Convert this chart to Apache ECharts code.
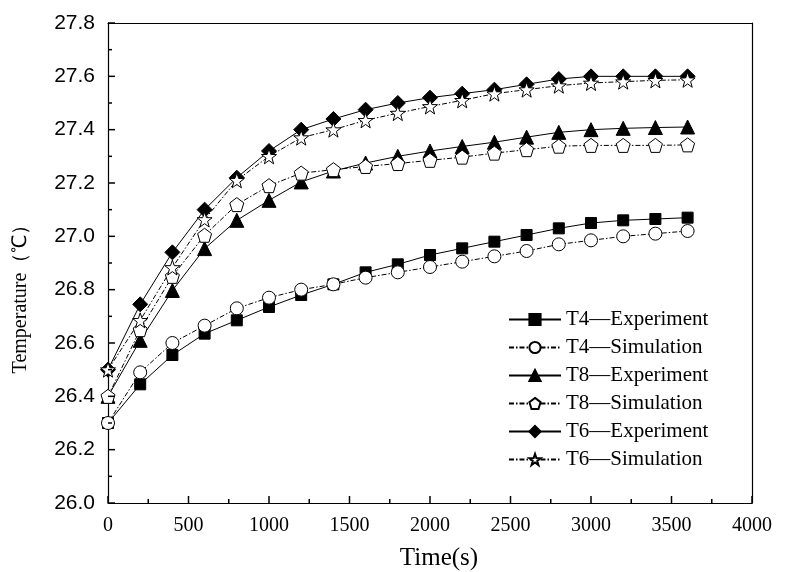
<!DOCTYPE html>
<html>
<head>
<meta charset="utf-8">
<script src="https://cdn.jsdelivr.net/npm/echarts@6/dist/echarts.min.js"></script>
<style>
  html, body { margin: 0; padding: 0; background: #fff; }
  #main { width: 788px; height: 572px; }
</style>
</head>
<body>
<div id="main"></div>
<script>
// time points (s)
var times = [0, 200, 400, 600, 800, 1000, 1200, 1400, 1600, 1800, 2000, 2200, 2400, 2600, 2800, 3000, 3200, 3400, 3600];

var t4Exp = [26.30, 26.445, 26.555, 26.635, 26.685, 26.735, 26.78, 26.82, 26.865, 26.895, 26.93, 26.955, 26.98, 27.005, 27.03, 27.05, 27.06, 27.065, 27.07];
var t4Sim = [26.30, 26.49, 26.60, 26.665, 26.73, 26.77, 26.80, 26.82, 26.845, 26.865, 26.885, 26.905, 26.925, 26.945, 26.97, 26.985, 27.0, 27.01, 27.02];
var t8Exp = [26.40, 26.61, 26.797, 26.954, 27.06, 27.135, 27.204, 27.245, 27.275, 27.30, 27.32, 27.337, 27.353, 27.372, 27.39, 27.40, 27.405, 27.408, 27.41];
var t8Sim = [26.40, 26.65, 26.85, 27.004, 27.119, 27.19, 27.237, 27.25, 27.262, 27.273, 27.285, 27.297, 27.312, 27.325, 27.338, 27.341, 27.341, 27.341, 27.343];
var t6Exp = [26.50, 26.745, 26.94, 27.10, 27.22, 27.32, 27.40, 27.44, 27.475, 27.50, 27.52, 27.535, 27.55, 27.57, 27.59, 27.60, 27.60, 27.60, 27.60];
var t6Sim = [26.50, 26.685, 26.883, 27.063, 27.21, 27.30, 27.37, 27.40, 27.435, 27.462, 27.487, 27.51, 27.535, 27.55, 27.565, 27.575, 27.58, 27.585, 27.587];

var names = ['T4—Experiment', 'T4—Simulation', 'T8—Experiment', 'T8—Simulation', 'T6—Experiment', 'T6—Simulation'];

// tick values
var xMajor = [0, 500, 1000, 1500, 2000, 2500, 3000, 3500, 4000];
var xMinor = [250, 750, 1250, 1750, 2250, 2750, 3250, 3750];
var yMajor = [26.0, 26.2, 26.4, 26.6, 26.8, 27.0, 27.2, 27.4, 27.6, 27.8];
var yMinor = [26.1, 26.3, 26.5, 26.7, 26.9, 27.1, 27.3, 27.5, 27.7];

var X_MIN = 0, X_MAX = 4000, Y_MIN = 26.0, Y_MAX = 27.8;

var pentagon = 'path://M0,-10 L9.51,-3.09 L5.88,8.09 L-5.88,8.09 L-9.51,-3.09 Z';
var star = 'path://M0,-10 L2.35,-3.24 L9.51,-3.09 L3.8,1.24 L5.88,8.09 L0,4 L-5.88,8.09 L-3.8,1.24 L-9.51,-3.09 L-2.35,-3.24 Z';

function pairs(vals) {
  return times.map(function (t, i) { return [t, vals[i]]; });
}

function line(name, vals, symbol, size, filled, dashed) {
  return {
    name: name,
    type: 'line',
    data: pairs(vals),
    symbol: symbol,
    symbolSize: size,
    showAllSymbol: true,
    lineStyle: { color: '#000', width: 1, type: dashed ? [5, 2, 1.5, 2] : 'solid' },
    itemStyle: { color: filled ? '#000' : '#fff', borderColor: '#000', borderWidth: 1 },
    emphasis: { disabled: true }
  };
}

// inward ticks on bottom / left axis, placed through the axis scales
function ticks(vals, onX, len) {
  return {
    type: 'custom',
    silent: true,
    clip: false,
    zlevel: 1,
    z: 10,
    data: vals.map(function (v) { return onX ? [v, Y_MIN] : [X_MIN, v]; }),
    renderItem: function (params, api) {
      var p = api.coord([api.value(0), api.value(1)]);
      return {
        type: 'line',
        shape: onX ? { x1: p[0], y1: p[1], x2: p[0], y2: p[1] - len } : { x1: p[0], y1: p[1], x2: p[0] + len, y2: p[1] },
        style: { stroke: '#000', lineWidth: 1.5, fill: null }
      };
    }
  };
}

var axisLine = { show: true, onZero: false, lineStyle: { color: '#000', width: 1.2 } };
// top / right frame lines only
var frame = {
  type: 'value', axisLine: axisLine, axisTick: { show: false }, axisLabel: { show: false }, splitLine: { show: false }
};

var chart = echarts.init(document.getElementById('main'));
chart.setOption({
  animation: false,
  grid: { left: 108, right: 36, top: 23, bottom: 69, outerBoundsMode: 'none' },
  legend: {
    orient: 'vertical',
    left: 503,
    top: 304,
    itemWidth: 52,
    itemHeight: 14,
    itemGap: 7,
    data: names,
    textStyle: { fontFamily: 'Liberation Serif', fontSize: 21, color: '#000' }
  },
  xAxis: [{
    type: 'value',
    min: X_MIN, max: X_MAX, interval: 500,
    name: 'Time(s)',
    nameLocation: 'middle',
    nameGap: 43,
    nameTextStyle: { fontFamily: 'Liberation Serif', fontSize: 25, color: '#000', padding: [0, 0, 0, 18] },
    axisLine: axisLine,
    axisTick: { show: false },
    axisLabel: {
      fontFamily: 'Liberation Serif', fontSize: 20, color: '#000', margin: 13,
      formatter: function (v) { return String(v); }
    },
    splitLine: { show: false }
  }, Object.assign({ position: 'top', min: X_MIN, max: X_MAX }, frame)],
  yAxis: [{
    type: 'value',
    min: Y_MIN, max: Y_MAX, interval: 0.2,
    name: 'Temperature（℃）',
    nameLocation: 'middle',
    nameGap: 77,
    nameTextStyle: { fontFamily: 'Liberation Serif', fontSize: 20, color: '#000', padding: [0, 62, 0, 0] },
    axisLine: axisLine,
    axisTick: { show: false },
    axisLabel: {
      fontFamily: 'Liberation Sans', fontSize: 21, color: '#000', margin: 13,
      formatter: function (v) { return v.toFixed(1); }
    },
    splitLine: { show: false }
  }, Object.assign({ position: 'right', min: Y_MIN, max: Y_MAX }, frame)],
  series: [
    line(names[0], t4Exp, 'rect', 11, true, false),
    line(names[1], t4Sim, 'circle', 13, false, true),
    line(names[2], t8Exp, 'triangle', 14, true, false),
    line(names[3], t8Sim, pentagon, 14, false, true),
    line(names[4], t6Exp, 'diamond', 15, true, false),
    line(names[5], t6Sim, star, 15, false, true),
    ticks(xMajor, true, 7),
    ticks(xMinor, true, 4),
    ticks(yMajor, false, 7),
    ticks(yMinor, false, 4)
  ]
});
</script>
</body>
</html>
